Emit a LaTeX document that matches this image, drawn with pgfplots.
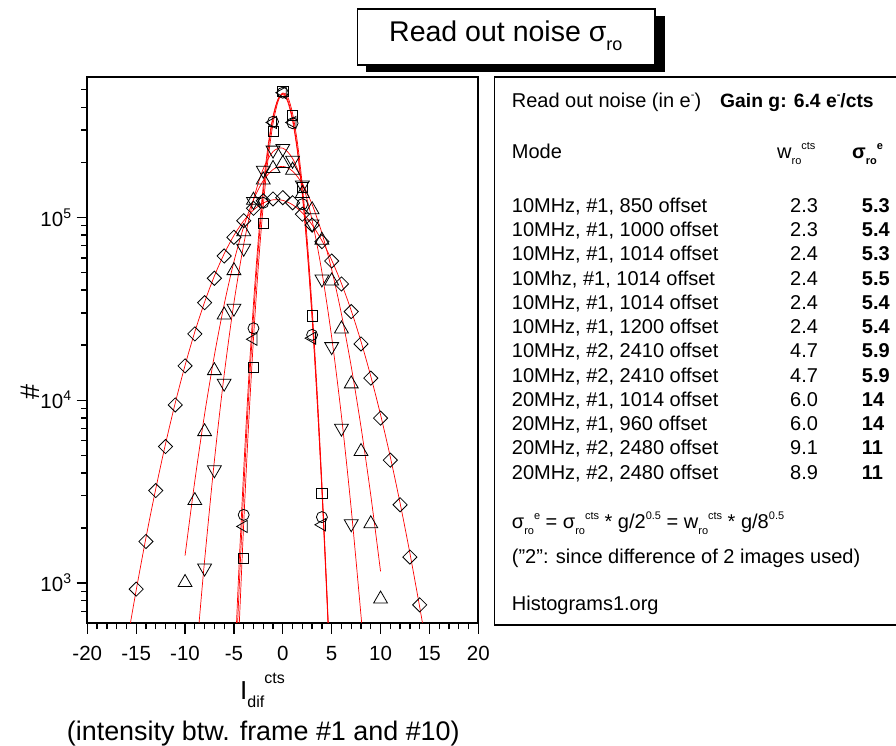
\documentclass[border=0pt]{standalone}
\usepackage{fontspec}
\setmainfont{Liberation Sans}
\usepackage{pgfplots}
\pgfplotsset{compat=1.18}
\newcommand{\T}[3]{\node[anchor=base west, inner sep=0pt] at (#1bp,#2bp) {#3};}
% small sub/superscripts in Origin style
\newcommand{\Sb}[1]{\raisebox{-5.5bp}{\fontsize{11bp}{11bp}\selectfont #1}}
\newcommand{\Sp}[1]{\raisebox{9bp}{\fontsize{11bp}{11bp}\selectfont #1}}
\begin{document}
\begin{tikzpicture}[font=\fontsize{20bp}{24bp}\selectfont]
\useasboundingbox (0bp,0bp) rectangle (896bp,746bp);
% title box with shadow
\fill[black] (366bp,674.3bp) rectangle (665bp,730bp);
\draw[line width=1.6bp, fill=white] (357.3bp,681bp) rectangle (655bp,737bp);
\node[anchor=base west, inner sep=0pt, font=\fontsize{28.5bp}{32bp}\selectfont] at (389bp,704bp) {Read out noise σ\raisebox{-9bp}{\fontsize{18bp}{18bp}\selectfont ro}};
% right panel box
\draw[line width=1.2bp] (900bp,669bp) -- (494.5bp,669bp) -- (494.5bp,121bp) -- (900bp,121bp);
\T{511.7}{638.5}{Read out noise (in e\Sp{-})}
\T{720}{638.5}{\fontsize{19.3bp}{24bp}\selectfont\bfseries Gain g: 6.4 e\Sp{-}/cts}
\T{511.7}{587}{Mode}
\T{777}{587}{w\Sb{ro}\Sp{cts}}
\T{852}{587}{\bfseries σ\Sb{ro}\Sp{e}}
\T{511.7}{533.6}{10MHz, \#1, 850 offset}   \T{790}{533.6}{2.3} \T{861.7}{533.6}{\textbf{5.3}}
\T{511.7}{509.35}{10MHz, \#1, 1000 offset} \T{790}{509.35}{2.3} \T{861.7}{509.35}{\textbf{5.4}}
\T{511.7}{485.1}{10MHz, \#1, 1014 offset}  \T{790}{485.1}{2.4} \T{861.7}{485.1}{\textbf{5.3}}
\T{511.7}{460.85}{10Mhz, \#1, 1014 offset} \T{790}{460.85}{2.4} \T{861.7}{460.85}{\textbf{5.5}}
\T{511.7}{436.6}{10MHz, \#1, 1014 offset}  \T{790}{436.6}{2.4} \T{861.7}{436.6}{\textbf{5.4}}
\T{511.7}{412.35}{10MHz, \#1, 1200 offset} \T{790}{412.35}{2.4} \T{861.7}{412.35}{\textbf{5.4}}
\T{511.7}{388.1}{10MHz, \#2, 2410 offset}  \T{790}{388.1}{4.7} \T{861.7}{388.1}{\textbf{5.9}}
\T{511.7}{363.85}{10MHz, \#2, 2410 offset} \T{790}{363.85}{4.7} \T{861.7}{363.85}{\textbf{5.9}}
\T{511.7}{339.6}{20MHz, \#1, 1014 offset}  \T{790}{339.6}{6.0} \T{861.7}{339.6}{\textbf{14}}
\T{511.7}{315.35}{20MHz, \#1, 960 offset}  \T{790}{315.35}{6.0} \T{861.7}{315.35}{\textbf{14}}
\T{511.7}{291.1}{20MHz, \#2, 2480 offset}  \T{790}{291.1}{9.1} \T{861.7}{291.1}{\textbf{11}}
\T{511.7}{266.85}{20MHz, \#2, 2480 offset} \T{790}{266.85}{8.9} \T{861.7}{266.85}{\textbf{11}}
\T{511.7}{217}{σ\Sb{ro}\Sp{e} = σ\Sb{ro}\Sp{cts} * g/2\Sp{0.5} = w\Sb{ro}\Sp{cts} * g/8\Sp{0.5}}
\T{511.7}{182}{("2": since difference of 2 images used)}
\T{511.7}{135.5}{Histograms1.org}
% axis labels
\node[anchor=base west, inner sep=0pt, font=\fontsize{26bp}{30bp}\selectfont] at (240bp,46bp) {I\raisebox{-8bp}{\fontsize{16bp}{16bp}\selectfont dif}\raisebox{16bp}{\fontsize{16bp}{16bp}\selectfont cts}};
\node[anchor=base west, inner sep=0pt, font=\fontsize{26.9bp}{30bp}\selectfont] at (66.7bp,6bp) {(intensity btw. frame \#1 and \#10)};
\node[rotate=90, inner sep=0pt, font=\fontsize{27bp}{30bp}\selectfont] at (30bp,354bp) {\#};
\begin{axis}[
  at={(87.3bp,123bp)}, anchor=south west,
  scale only axis, width=391bp, height=546bp,
  xmin=-20, xmax=20, ymode=log, ymin=605, ymax=5.85e5,
  axis line style={line width=1.8bp},
  tick align=outside, tickpos=left,
  major tick length=10.7bp, minor tick length=6.3bp,
  tick style={black, line width=1.3bp},
  xtick={-20,-15,...,20}, xticklabels={-20,-15,-10,-5,0,5,10,15,20},
  minor x tick num=4,
  ytick={1000,10000,100000},
  yticklabels={10\raisebox{8bp}{\fontsize{14bp}{14bp}\selectfont 3},10\raisebox{8bp}{\fontsize{14bp}{14bp}\selectfont 4},10\raisebox{8bp}{\fontsize{14bp}{14bp}\selectfont 5}},
  minor ytick={700,800,900,2000,3000,4000,5000,6000,7000,8000,9000,20000,30000,40000,50000,60000,70000,80000,90000,200000,300000,400000,500000},
  ticklabel style={font=\fontsize{20.5bp}{24bp}\selectfont},
  xticklabel style={yshift=-9bp},
  yticklabel style={xshift=-2bp},
  clip=true,
]
% markers
\addplot[only marks, mark=square, mark size=5bp, mark options={rotate=45, black, line width=0.8bp}] coordinates {
(-15,927)(-14,1687)(-13,3206)(-12,5575)(-11,9420)(-10,15400)(-9,23030)(-8,34140)(-7,46420)(-6,61450)(-5,77750)(-4,95800)(-3,112000)(-2,123000)(-1,126000)(0,128000)(1,120000)(2,104000)(3,90700)(4,73600)(5,57700)(6,43200)(7,30500)(8,20300)(9,13200)(10,7980)(11,4700)(12,2680)(13,1387)(14,760)};
\addplot[only marks, mark=triangle, mark size=8bp, mark options={black, line width=0.8bp}] coordinates {
(-10,1007)(-9,2826)(-8,6730)(-7,14510)(-6,29240)(-5,51100)(-4,83400)(-3,124000)(-2,160000)(-1,185000)(0,197000)(1,181000)(2,135000)(3,110000)(4,75000)(5,44870)(6,24520)(7,12280)(8,5240)(9,2110)(10,818)};
\addplot[only marks, mark=triangle, mark size=8bp, mark options={rotate=180, black, line width=0.8bp}] coordinates {
(-8,1208)(-7,4160)(-6,12390)(-5,31830)(-4,67700)(-3,122000)(-2,181000)(-1,233000)(0,238000)(1,205000)(2,150000)(3,92000)(4,46000)(5,19630)(6,7030)(7,2110)};
\addplot[only marks, mark=square, mark size=5.1bp, mark options={black, line width=0.8bp}] coordinates {
(-4,1358)(-3,15140)(-2,92700)(-1,294000)(0,490000)(1,362000)(2,145000)(3,28900)(4,3100)};
\addplot[only marks, mark=o, mark size=5.5bp, mark options={black, line width=0.8bp}] coordinates {
(-4,2360)(-3,24730)(-2,120000)(-1,333000)(0,480000)(1,327000)(2,118000)(3,22750)(4,2295)};
\addplot[only marks, mark=triangle, mark size=7bp, mark options={rotate=90, black, line width=0.8bp}] coordinates {
(-4,2040)(-3,21540)(-1,330000)(0,480000)(1,330000)(3,21830)(4,2083)};
% fit curves
\addplot[red, line width=0.7bp, smooth] coordinates {
(-4.7,477)(-4.5,848)(-4,3200)(-3.5,10340)(-3,28500)(-2.5,67360)(-2,136100)(-1.5,235100)(-1,347500)(-0.5,439300)(0,475000)(0.5,439300)(1,347500)(1.5,235100)(2,136100)(2.5,67360)(3,28500)(3.5,10340)(4,3200)(4.5,848)(4.7,477)};
\addplot[red, line width=0.7bp, smooth] coordinates {
(-4.6,386)(-4.5,521)(-4,2119)(-3.5,7339)(-3,21620)(-2.5,54190)(-2,115700)(-1.5,210200)(-1,324900)(-0.5,427400)(0,478400)(0.5,455800)(1,369600)(1.5,255100)(2,149800)(2.5,74880)(3,31850)(3.5,11520)(4,3552)(4.5,932)(4.8,386)};
\addplot[red, line width=0.7bp, smooth] coordinates {
(-4.8,504)(-4.5,1165)(-4,4156)(-3.5,12760)(-3,33650)(-2.5,76230)(-2,148500)(-1.5,248500)(-1,357500)(-0.5,442000)(0,469600)(0.5,428800)(1,336500)(1.5,227000)(2,131600)(2.5,65520)(3,28060)(3.5,10320)(4,3262)(4.5,887)(4.8,377)};
\addplot[red, line width=0.7bp, smooth] coordinates {
(-8.7,498)(-8.5,665)(-8,1330)(-7,4663)(-6,13750)(-5,34080)(-4,71040)(-3,124800)(-2,184100)(-1,228600)(0,238700)(1,209700)(2,154900)(3,96240)(4,50300)(5,22130)(6,8190)(7,2544)(8,665)(8.2,498)};
\addplot[red, line width=0.7bp, smooth] coordinates {
(-10,1414)(-9,3621)(-8,8385)(-7,17570)(-6,33330)(-5,57210)(-4,88810)(-3,124800)(-2,158600)(-1,182500)(0,189900)(1,178800)(2,152400)(3,117500)(4,81990)(5,51760)(6,29560)(7,15280)(8,7146)(9,3024)(10,1158)};
\addplot[red, line width=0.7bp, smooth] coordinates {
(-15.7,558)(-15,913)(-14,1769)(-13,3269)(-12,5761)(-11,9670)(-10,15490)(-9,23630)(-8,34390)(-7,47710)(-6,63090)(-5,79540)(-4,95600)(-3,109600)(-2,119700)(-1,124600)(0,123700)(1,117100)(2,105700)(3,90920)(4,74580)(5,58320)(6,43460)(7,30890)(8,20930)(9,13510)(10,8327)(11,4886)(12,2733)(13,1459)(14,742)(14.4,558)};
\end{axis}
\end{tikzpicture}
\end{document}
